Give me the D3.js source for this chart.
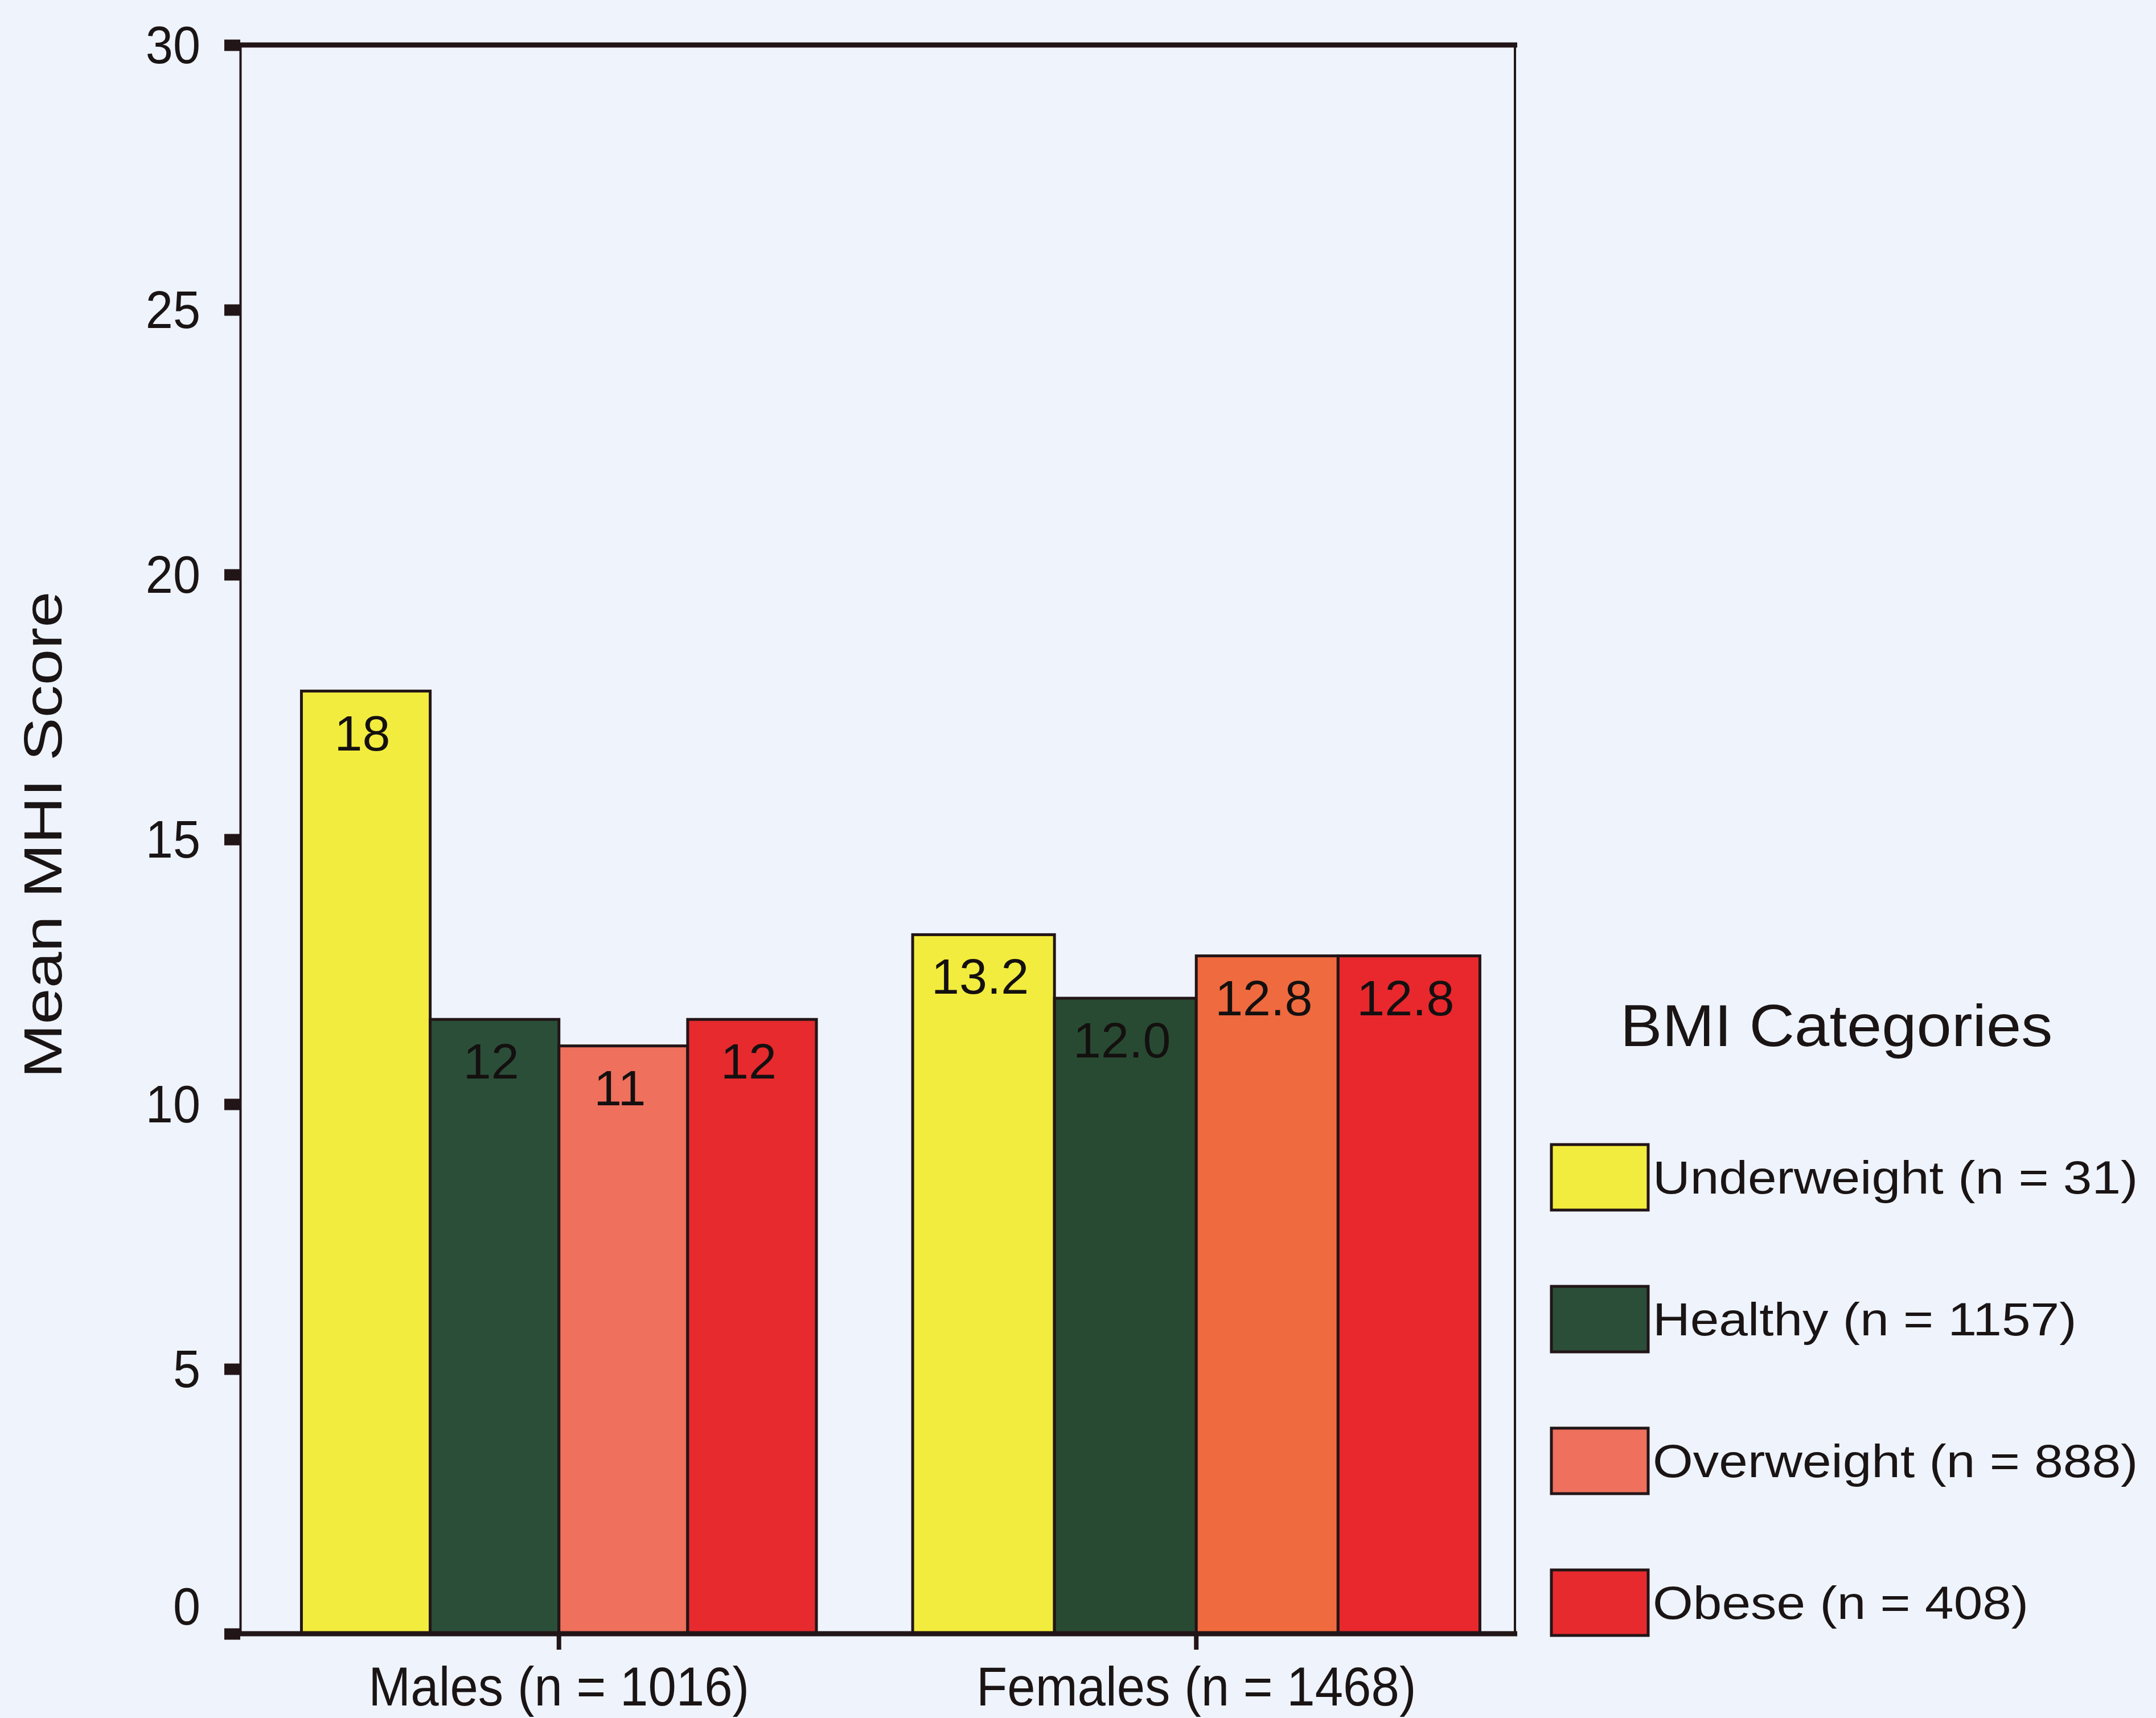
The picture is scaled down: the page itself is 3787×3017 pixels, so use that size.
<!DOCTYPE html>
<html>
<head>
<meta charset="utf-8">
<script src="https://cdn.jsdelivr.net/npm/d3@7"></script>
<style>
  html, body { margin: 0; padding: 0; background: #eef3fc; }
  svg { display: block; }
</style>
</head>
<body>
<script>
// ---------------- data ----------------
const groups = ["Males (n = 1016)", "Females (n = 1468)"];
const series = ["Underweight (n = 31)", "Healthy (n = 1157)", "Overweight (n = 888)", "Obese (n = 408)"];
const malesValues = [17.8, 11.6, 11.1, 11.6];
const femalesValues = [13.2, 12.0, 12.8, 12.8];
const malesLabels = ["18", "12", "11", "12"];
const femalesLabels = ["13.2", "12.0", "12.8", "12.8"];
const yTicks = [0, 5, 10, 15, 20, 25, 30];
const yTitle = "Mean MHI Score";
const legendTitle = "BMI Categories";

// ---------------- styles / layout ----------------
const W = 3787, H = 3017;
const plot = { left: 422, right: 2661, top: 79, bottom: 2869 };
const seriesColors = ["#f2ec3e", "#2b4e38", "#ee705d", "#e62a2e"];
const groupColors = [
  ["#f2ec3e", "#2b4e38", "#ee705d", "#e62a2e"],
  ["#f2ec3e", "#284a32", "#ef6a3f", "#e8282d"]
];
const groupSpan = [0.808, 0.89];   // fraction of band occupied by the bar cluster
const ink = "#221517";
const sans = "'Liberation Sans', Arial, sans-serif";

const svg = d3.select("body").append("svg")
  .attr("width", W).attr("height", H)
  .attr("viewBox", `0 0 ${W} ${H}`);

svg.append("rect").attr("width", W).attr("height", H).attr("fill", "#eef3fc");

// scales
const x = d3.scaleBand().domain(groups).range([plot.left, plot.right]).padding(0);
const y = d3.scaleLinear().domain([0, 30]).range([plot.bottom, plot.top]);

const valuesByGroup = [malesValues, femalesValues];
const labelsByGroup = [malesLabels, femalesLabels];

// bars
groups.forEach((g, gi) => {
  const cx = x(g) + x.bandwidth() / 2;
  const span = x.bandwidth() * groupSpan[gi];
  const inner = d3.scaleBand().domain(series).range([cx - span / 2, cx + span / 2]).padding(0);
  const data = series.map((s, si) => ({ s, si, v: valuesByGroup[gi][si], label: labelsByGroup[gi][si] }));
  const gg = svg.append("g");
  gg.selectAll("rect").data(data).join("rect")
    .attr("x", d => inner(d.s))
    .attr("y", d => y(d.v))
    .attr("width", inner.bandwidth())
    .attr("height", d => y(0) - y(d.v))
    .attr("fill", d => groupColors[gi][d.si])
    .attr("stroke", ink).attr("stroke-width", 5);
  gg.selectAll("text").data(data).join("text")
    .attr("x", d => inner(d.s) + inner.bandwidth() / 2 - 6)
    .attr("y", d => y(d.v) + 104)
    .attr("text-anchor", "middle")
    .attr("font-family", sans).attr("font-size", 88)
    .attr("fill", "#141010")
    .text(d => d.label);
});

// frame: top and right
svg.append("line").attr("x1", 396).attr("x2", 2665).attr("y1", plot.top).attr("y2", plot.top)
  .attr("stroke", ink).attr("stroke-width", 9);
svg.append("line").attr("x1", plot.right).attr("x2", plot.right).attr("y1", plot.top).attr("y2", plot.bottom)
  .attr("stroke", ink).attr("stroke-width", 4);

// y axis
const yAxis = svg.append("g").attr("transform", `translate(${plot.left},0)`)
  .call(d3.axisLeft(y).tickValues(yTicks).tickSize(28).tickSizeOuter(0).tickFormat(d3.format("d")));
yAxis.select(".domain").attr("stroke", ink).attr("stroke-width", 4);
yAxis.selectAll(".tick line").attr("stroke", ink).attr("stroke-width", 20);
yAxis.selectAll(".tick text")
  .attr("font-family", sans).attr("font-size", 93).attr("fill", "#1a1414")
  .attr("x", -70 / 0.93).attr("dy", d => d === 0 ? "-0.18em" : "0.34em")
  .attr("transform", "scale(0.93,1)");
yAxis.attr("font-family", null).attr("font-size", null);

// x axis
const xAxis = svg.append("g").attr("transform", `translate(0,${plot.bottom})`)
  .call(d3.axisBottom(x).tickSize(28).tickSizeOuter(0));
xAxis.select(".domain").attr("stroke", ink).attr("stroke-width", 9)
  .attr("d", "M396,0H2665");
xAxis.selectAll(".tick line").attr("stroke", ink).attr("stroke-width", 8);
xAxis.selectAll(".tick text")
  .attr("font-family", sans).attr("font-size", 96).attr("fill", "#1a1414")
  .attr("y", 126).attr("dy", null)
  .attr("transform", "scale(0.925,1)");
xAxis.attr("font-family", null).attr("font-size", null);

// y title
svg.append("text")
  .attr("transform", "translate(108,1466) rotate(-90) scale(1.2,1)")
  .attr("text-anchor", "middle")
  .attr("font-family", sans).attr("font-size", 95).attr("fill", "#1a1414")
  .text(yTitle);

// legend
svg.append("text")
  .attr("transform", "translate(2846,1837) scale(1.07,1)")
  .attr("font-family", sans).attr("font-size", 103).attr("fill", "#1a1414")
  .text(legendTitle);
const legendRow = d3.scalePoint().domain(series).range([2067, 2814]);
const lg = svg.append("g").selectAll("g").data(series).join("g")
  .attr("transform", d => `translate(0,${legendRow(d)})`);
lg.append("rect")
  .attr("x", 2725).attr("y", -57).attr("width", 170).attr("height", 115)
  .attr("fill", (d, i) => seriesColors[i])
  .attr("stroke", ink).attr("stroke-width", 5);
lg.append("text")
  .attr("transform", "translate(2903,29) scale(1.11,1)")
  .attr("font-family", sans).attr("font-size", 82).attr("fill", "#1a1414")
  .text(d => d);
</script>
</body>
</html>
